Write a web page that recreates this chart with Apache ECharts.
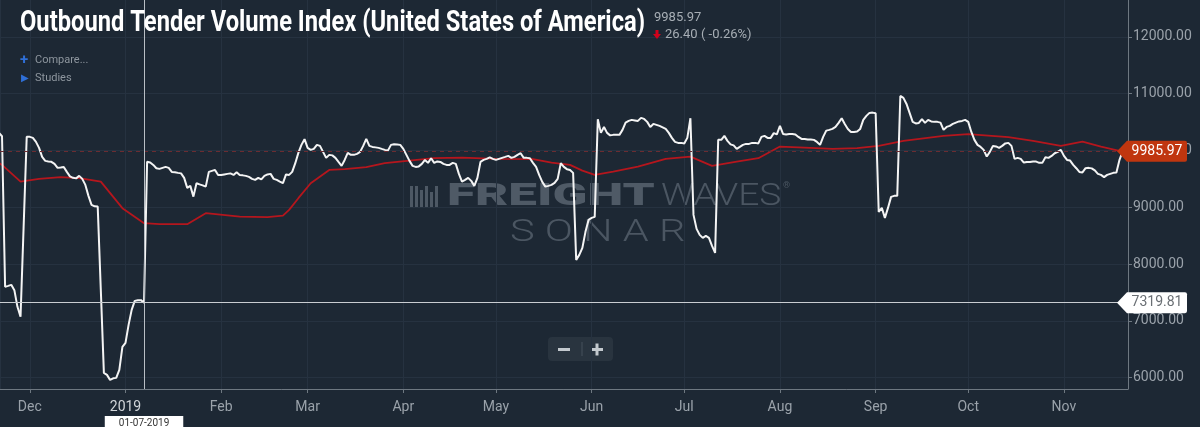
<!DOCTYPE html>
<html><head><meta charset="utf-8">
<script src="https://cdn.jsdelivr.net/npm/echarts@6/dist/echarts.min.js"></script>
<style>html,body{margin:0;padding:0;background:#1d2834;}#c{width:1200px;height:427px;}</style>
</head><body><div id="c"></div>
<script>
// ---------- tick labels ----------
const monthNames = ['Jan','Feb','Mar','Apr','May','Jun','Jul','Aug','Sep','Oct','Nov','Dec'];
const yTicks = [6000, 7000, 8000, 9000, 10000, 11000, 12000];

// ---------- Outbound Tender Volume Index (daily, white line) ----------
const whiteNov2018 = [10310, 10250, 7599, 7616, 7634, 7540, 7247, 7071, 8655, 10240]; // from Nov 21
const whiteDec2018 = [10240, 10222, 10151, 10046, 9887, 9817, 9808, 9800, 9764, 9694, 9702, 9711, 9623, 9544, 9518, 9509,
  9553, 9500, 9394, 9201, 9042, 9016, 9012, 7550, 6084, 6049, 5961, 5988, 5996, 6137, 6542];
const whiteJan2019 = [6613, 6930, 7194, 7352, 7361, 7365, 7319.81, 9800, 9790, 9746, 9688, 9676, 9694, 9711, 9694, 9623,
  9618, 9606, 9597, 9518, 9342, 9377, 9188, 9424, 9403, 9386, 9364, 9623, 9641, 9658, 9570];
const whiteFeb2019 = [9570, 9579, 9588, 9597, 9570, 9618, 9570, 9562, 9553, 9535, 9500, 9482, 9518, 9491, 9553, 9579,
  9588, 9500, 9482, 9452, 9424, 9579, 9570, 9623, 9776, 9958, 10099, 10199];
const whiteMar2019 = [10046, 10011, 10028, 10099, 10081, 9975, 9870, 9923, 9914, 9870, 9799, 9729, 9834, 9958, 9923, 9923,
  9940, 9975, 10081, 10204, 10081, 10063, 10055, 10046, 10028, 10011, 9998, 10099, 10111, 10107, 10099];
const whiteApr2019 = [10028, 9923, 9817, 9729, 9711, 9720, 9764, 9834, 9782, 9864, 9782, 9808, 9799, 9764, 9746, 9746,
  9782, 9764, 9588, 9452, 9482, 9518, 9465, 9377, 9518, 9799, 9834, 9852, 9879, 9852];
const whiteMay2019 = [9834, 9852, 9870, 9887, 9905, 9870, 9887, 9923, 9952, 9870, 9870, 9864, 9782, 9711, 9570, 9447,
  9364, 9377, 9394, 9430, 9500, 9776, 9711, 9671, 9658, 9606, 8074, 8162, 8285, 8567, 8778];
const whiteJun2019 = [8813, 8831, 10551, 10310, 10415, 10310, 10266, 10275, 10275, 10275, 10363, 10491, 10521, 10539, 10530, 10521,
  10574, 10556, 10504, 10415, 10468, 10451, 10433, 10407, 10380, 10310, 10222, 10151, 10134, 10134];
const whiteJul2019 = [10125, 10222, 10569, 8866, 8620, 8514, 8461, 8497, 8461, 8320, 8197, 10187, 10187, 10257, 10169, 10107,
  10090, 10028, 10063, 10099, 10116, 10116, 10134, 10134, 10125, 10239, 10257, 10222, 10222, 10305, 10283];
const whiteAug2019 = [10433, 10292, 10283, 10292, 10292, 10283, 10239, 10204, 10204, 10195, 10195, 10187, 10151, 10099, 10239, 10350,
  10363, 10380, 10415, 10486, 10569, 10468, 10380, 10327, 10327, 10333, 10380, 10539, 10609, 10662, 10667];
const whiteSep2019 = [10657, 8919, 8989, 8813, 8989, 9183, 9201, 9201, 10961, 10926, 10820, 10662, 10504, 10477, 10486, 10551,
  10486, 10539, 10512, 10504, 10504, 10491, 10363, 10415, 10433, 10468, 10491, 10512, 10521, 10539];
const whiteOct2019 = [10504, 10327, 10187, 10099, 10063, 10011, 9893, 9975, 10081, 10072, 10046, 10081, 10125, 10134, 10081, 9852,
  9870, 9852, 9787, 9799, 9799, 9808, 9805, 9782, 9782, 9882, 9870, 9905, 9952, 9975, 10011];
const whiteNov2019 = [9905, 9834, 9822, 9746, 9688, 9623, 9614, 9688, 9694, 9685, 9650, 9588, 9570, 9530, 9570, 9588,
  9606, 9611, 9835, 9985.97];
const whiteBlocks = [
  ['2018-11-21', whiteNov2018], ['2018-12-01', whiteDec2018], ['2019-01-01', whiteJan2019], ['2019-02-01', whiteFeb2019],
  ['2019-03-01', whiteMar2019], ['2019-04-01', whiteApr2019], ['2019-05-01', whiteMay2019], ['2019-06-01', whiteJun2019],
  ['2019-07-01', whiteJul2019], ['2019-08-01', whiteAug2019], ['2019-09-01', whiteSep2019], ['2019-10-01', whiteOct2019],
  ['2019-11-01', whiteNov2019]
];

// ---------- moving average (red line) ----------
const maDates = ['2018-11-21','2018-11-22','2018-11-28','2018-12-04','2018-12-11','2018-12-17','2018-12-24','2018-12-31',
  '2019-01-07','2019-01-12','2019-01-21','2019-01-27','2019-02-07','2019-02-16','2019-02-21','2019-02-23','2019-02-26',
  '2019-03-02','2019-03-08','2019-03-13','2019-03-20','2019-03-26','2019-04-03','2019-04-11','2019-04-20','2019-05-01',
  '2019-05-13','2019-05-19','2019-05-25','2019-05-29','2019-06-02','2019-06-08','2019-06-16','2019-06-25','2019-07-03',
  '2019-07-10','2019-07-18','2019-07-25','2019-08-01','2019-08-09','2019-08-18','2019-08-26','2019-09-02','2019-09-10',
  '2019-09-23','2019-10-01','2019-10-14','2019-10-22','2019-10-31','2019-11-07','2019-11-13','2019-11-20'];
const maValues = [9782, 9746, 9452, 9500, 9530, 9512, 9452, 8984,
  8720, 8702, 8702, 8896, 8836, 8826, 8854, 8954, 9160,
  9424, 9658, 9671, 9706, 9776, 9822, 9864, 9875, 9852,
  9847, 9787, 9746, 9646, 9570, 9628, 9717, 9852, 9893,
  9729, 9805, 9864, 10069, 10051, 10028, 10040, 10081, 10169,
  10257, 10287, 10234, 10169, 10081, 10157, 10069, 9981];

const lastValue = 9985.97;
const crossDate = '2019-01-07';
const crossValue = 7319.81;
const titleText = 'Outbound Tender Volume Index (United States of America)';

// ---------- helpers ----------
function ts(s, h, m) {
  const p = s.split('-').map(Number);
  return new Date(p[0], p[1] - 1, p[2], h || 0, m || 0).getTime();
}
const X_MIN = ts('2018-11-21', 8, 20);
const X_MAX = ts('2019-11-21', 18, 0);

const whiteData = [];
whiteBlocks.forEach(([start, vals]) => {
  const p = start.split('-').map(Number);
  vals.forEach((v, i) => whiteData.push([new Date(p[0], p[1] - 1, p[2] + i).getTime(), v]));
});
const maData = maDates.map((d, i) => [ts(d), maValues[i]]);

// fit the condensed-looking title into its width
const titleFont = 'bold 29px Roboto';
const mctx = document.createElement('canvas').getContext('2d');
mctx.font = titleFont;
const titleScale = 625 / mctx.measureText(titleText).width;

const axisColor = '#6e7881';
const gridColor = '#263240';
const labelColor = '#9aa2aa';
const tagPath = 'path://M0,10L10,0L68,0Q70,0 70,2L70,18Q70,20 68,20L10,20Z';

const chart = echarts.init(document.getElementById('c'));
chart.setOption({
  backgroundColor: '#1d2834',
  animation: false,
  grid: { left: 0, right: 72, top: 0, bottom: 38 },
  xAxis: {
    type: 'time', min: X_MIN, max: X_MAX, splitNumber: 12,
    axisLine: { show: true, lineStyle: { color: axisColor, width: 1 } },
    axisTick: { show: true, length: 4, lineStyle: { color: axisColor } },
    axisLabel: {
      margin: 11, color: labelColor, fontSize: 14, fontFamily: 'Roboto', hideOverlap: false,
      formatter: v => { const d = new Date(v); return d.getMonth() === 0 ? '{yr|' + d.getFullYear() + '}' : monthNames[d.getMonth()]; },
      rich: { yr: { color: '#d2d6da', fontSize: 14, fontFamily: 'Roboto' } }
    },
    splitLine: { show: true, lineStyle: { color: gridColor, width: 1 } }
  },
  yAxis: {
    type: 'value', position: 'right', min: 5800, max: 12650,
    axisLine: { show: true, lineStyle: { color: axisColor, width: 1 } },
    axisTick: { show: true, length: 4, customValues: yTicks, lineStyle: { color: axisColor } },
    axisLabel: { customValues: yTicks, margin: 5, color: labelColor, fontSize: 14, fontFamily: 'Roboto',
      formatter: v => Number(v).toFixed(2) },
    splitLine: { show: true, lineStyle: { color: gridColor, width: 1 } }
  },
  graphic: [
    // watermark
    { type: 'group', silent: true, z: 1, children: [
      { type: 'rect', shape: { x: 410, y: 186, width: 3, height: 22 }, style: { fill: '#4d5864' } },
      { type: 'rect', shape: { x: 415, y: 186, width: 3, height: 22 }, style: { fill: '#4d5864' } },
      { type: 'rect', shape: { x: 420, y: 190, width: 3, height: 18 }, style: { fill: '#4d5864' } },
      { type: 'rect', shape: { x: 425, y: 186, width: 3, height: 22 }, style: { fill: '#4d5864' } },
      { type: 'rect', shape: { x: 430, y: 192, width: 3, height: 16 }, style: { fill: '#4d5864' } },
      { type: 'rect', shape: { x: 435, y: 186, width: 3, height: 22 }, style: { fill: '#4d5864' } },
      { type: 'text', x: 447, y: 197, scaleX: 1.65, style: { text: 'FREIGHT', fill: '#4f5a66', font: '900 31px Roboto', verticalAlign: 'middle' } },
      { type: 'text', x: 661, y: 197, scaleX: 1.2, style: { text: 'WAVES', fill: '#4b5662', font: '300 31px Roboto', verticalAlign: 'middle' } },
      { type: 'text', x: 783, y: 186, style: { text: '®', fill: '#4b5662', font: '9px Roboto', verticalAlign: 'middle' } },
      { type: 'text', x: 510, y: 233, scaleX: 1.3, style: { text: 'S O N A R', fill: '#4b5662', font: '300 32px Roboto', verticalAlign: 'middle' } }
    ]},
    // title & header
    { type: 'text', x: 20, y: 24, z: 10, scaleX: titleScale, style: { text: titleText, fill: '#ffffff',
      font: titleFont, verticalAlign: 'middle' } },
    { type: 'text', x: 654, y: 18, z: 10, style: { text: '9985.97', fill: '#a7aeb5', font: '13px Roboto', verticalAlign: 'middle' } },
    { type: 'polygon', z: 10, shape: { points: [[655.5, 30], [658.5, 30], [658.5, 34], [661, 34], [657, 39], [653, 34], [655.5, 34]] },
      style: { fill: '#d0021b' } },
    { type: 'text', x: 665, y: 35, z: 10, style: { text: '26.40 ( -0.26%)', fill: '#a7aeb5', font: '13px Roboto', verticalAlign: 'middle' } },
    { type: 'text', x: 20, y: 60, z: 10, style: { text: '+', fill: '#2f6fd6', font: 'bold 15px Roboto', verticalAlign: 'middle' } },
    { type: 'text', x: 35, y: 60, z: 10, style: { text: 'Compare...', fill: '#8e969e', font: '11px Roboto', verticalAlign: 'middle' } },
    { type: 'text', x: 21, y: 78, z: 10, style: { text: '▶', fill: '#2f6fd6', font: '10px "DejaVu Sans"', verticalAlign: 'middle' } },
    { type: 'text', x: 35, y: 78, z: 10, style: { text: 'Studies', fill: '#8e969e', font: '11px Roboto', verticalAlign: 'middle' } },
    // zoom buttons
    { type: 'group', z: 10, children: [
      { type: 'rect', shape: { x: 548, y: 337, width: 65, height: 24, r: 4 }, style: { fill: '#29343f' } },
      { type: 'line', shape: { x1: 582, y1: 342, x2: 582, y2: 356 }, style: { stroke: '#46515c', lineWidth: 1 } },
      { type: 'rect', shape: { x: 558, y: 348, width: 12, height: 3 }, style: { fill: '#c3c9ce' } },
      { type: 'rect', shape: { x: 591, y: 348, width: 12, height: 3 }, style: { fill: '#c3c9ce' } },
      { type: 'rect', shape: { x: 595.5, y: 343.5, width: 3, height: 12 }, style: { fill: '#c3c9ce' } }
    ]}
  ],
  series: [
    {
      name: 'MA', type: 'line', data: maData, showSymbol: false, z: 3,
      lineStyle: { color: '#b5161d', width: 1.8 },
      markLine: {
        silent: true, symbol: ['none', 'none'], animation: false,
        data: [
          { yAxis: lastValue, lineStyle: { color: '#6b2c31', type: [4, 4], width: 1 }, label: { show: false } },
          { xAxis: ts(crossDate), lineStyle: { color: '#b9bfc5', type: 'solid', width: 1 },
            label: { show: true, position: 'start', distance: 27, formatter: '01-07-2019', color: '#333', fontSize: 10,
              fontFamily: 'Roboto', backgroundColor: '#ffffff', padding: [2, 14, 2, 14] } },
          { yAxis: crossValue, lineStyle: { color: '#c9cdd1', type: 'solid', width: 1 }, label: { show: false } }
        ]
      }
    },
    {
      name: 'OTVI', type: 'line', data: whiteData, showSymbol: false, z: 4,
      lineStyle: { color: '#f4f4f4', width: 2 },
      markPoint: {
        silent: true, animation: false,
        data: [
          { coord: [X_MAX, lastValue], symbol: tagPath, symbolSize: [70, 21], symbolOffset: [24, 0],
            itemStyle: { color: '#c0360f' },
            label: { show: true, position: 'inside', offset: [5, 0], formatter: '9985.97', color: '#ffffff', fontSize: 14, fontFamily: 'Roboto' } },
          { coord: [X_MAX, crossValue], symbol: tagPath, symbolSize: [70, 21], symbolOffset: [24, 0],
            itemStyle: { color: '#ffffff' },
            label: { show: true, position: 'inside', offset: [5, 0], formatter: '7319.81', color: '#6a6f74', fontSize: 14, fontFamily: 'Roboto' } }
        ]
      }
    }
  ]
});
</script>
</body></html>
